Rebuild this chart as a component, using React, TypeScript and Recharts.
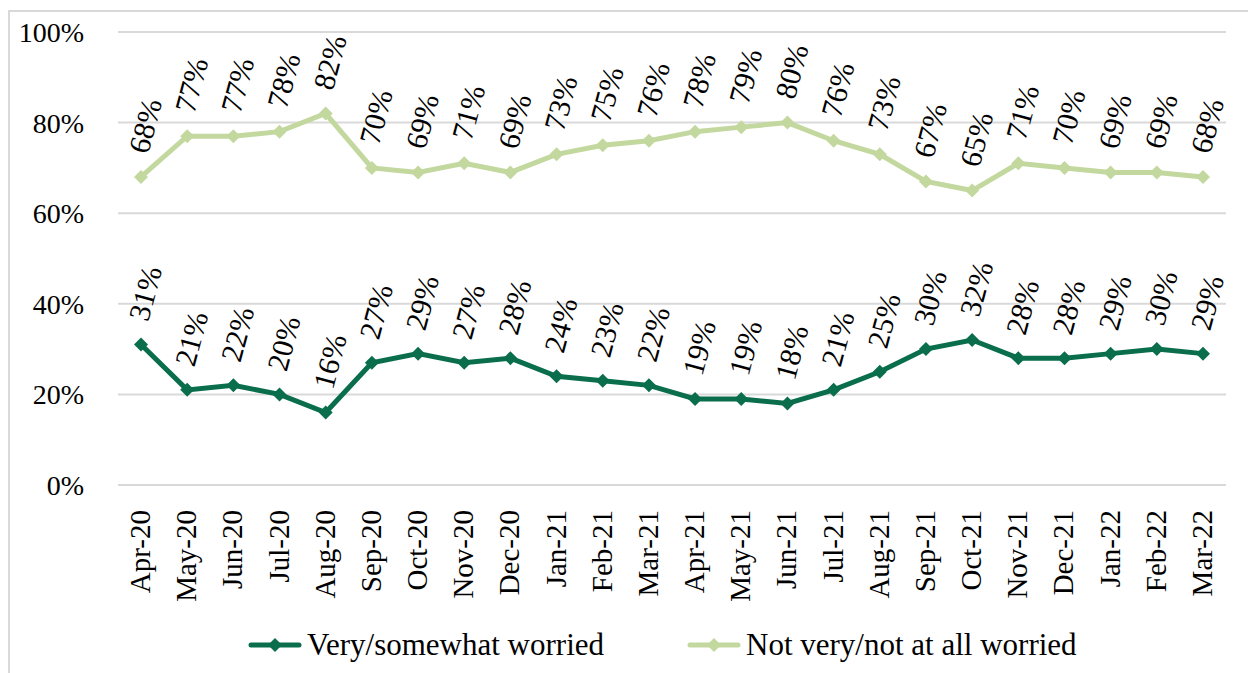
import { LineChart, Line, XAxis, YAxis, CartesianGrid, Legend } from 'recharts';

const months = [
  'Apr-20', 'May-20', 'Jun-20', 'Jul-20', 'Aug-20', 'Sep-20', 'Oct-20', 'Nov-20',
  'Dec-20', 'Jan-21', 'Feb-21', 'Mar-21', 'Apr-21', 'May-21', 'Jun-21', 'Jul-21',
  'Aug-21', 'Sep-21', 'Oct-21', 'Nov-21', 'Dec-21', 'Jan-22', 'Feb-22', 'Mar-22',
];
const worried = [31, 21, 22, 20, 16, 27, 29, 27, 28, 24, 23, 22, 19, 19, 18, 21, 25, 30, 32, 28, 28, 29, 30, 29];
const notWorried = [68, 77, 77, 78, 82, 70, 69, 71, 69, 73, 75, 76, 78, 79, 80, 76, 73, 67, 65, 71, 70, 69, 69, 68];
const yTicks = [0, 20, 40, 60, 80, 100];

const DARK = '#0a6e4d';
const LIGHT = '#c3d89e';
const FONT = '"Liberation Serif", "Times New Roman", serif';

const data = months.map((m, i) => ({ month: m, worried: worried[i], notWorried: notWorried[i] }));

const diamond = (color: string) => (props: any) => {
  const { cx, cy, index } = props;
  if (cx == null || cy == null) return <g key={index} />;
  const r = 7;
  return (
    <path
      key={index}
      d={`M${cx},${cy - r} L${cx + r},${cy} L${cx},${cy + r} L${cx - r},${cy} Z`}
      fill={color}
    />
  );
};

// value labels sit above each point, tilted almost upright
const valueLabel = (props: any) => {
  const { x, y, value, index } = props;
  const ax = x + 7;
  const ay = y - 22;
  return (
    <text
      key={index}
      x={ax}
      y={ay}
      transform={`rotate(-75, ${ax}, ${ay})`}
      fontSize={30}
      fontFamily={FONT}
      fill="#000"
      textAnchor="start"
    >
      {value}%
    </text>
  );
};

const MonthTick = (props: any) => {
  const { x, y, payload } = props;
  const ax = x + 9;
  const ay = y + 23;
  return (
    <text
      x={ax}
      y={ay}
      transform={`rotate(-90, ${ax}, ${ay})`}
      textAnchor="end"
      fontSize={29}
      fontFamily={FONT}
      fill="#000"
    >
      {payload.value}
    </text>
  );
};

const legendItems = [
  { label: 'Very/somewhat worried', color: DARK },
  { label: 'Not very/not at all worried', color: LIGHT },
];

const LegendContent = () => (
  <div style={{ height: 40, display: 'flex', alignItems: 'center', paddingLeft: 238, fontFamily: FONT, fontSize: 31 }}>
    {legendItems.map((it, i) => (
      <div key={it.label} style={{ display: 'flex', alignItems: 'center', marginLeft: i === 0 ? 0 : 83 }}>
        <svg width={54} height={20} style={{ marginRight: 5 }}>
          <line x1={3} y1={10} x2={51} y2={10} stroke={it.color} strokeWidth={5} strokeLinecap="round" />
          <path d="M27,3 L34,10 L27,17 L20,10 Z" fill={it.color} />
        </svg>
        <span style={{ color: '#000', lineHeight: '40px' }}>{it.label}</span>
      </div>
    ))}
  </div>
);

export default function App() {
  return (
    <div
      style={{
        position: 'absolute',
        left: 8,
        top: 10,
        width: 1240,
        height: 663,
        borderTop: '2px solid #d9d9d9',
        borderLeft: '2px solid #d9d9d9',
        boxSizing: 'border-box',
        background: '#fff',
      }}
    >
      <LineChart
        width={1238}
        height={661}
        data={data}
        margin={{ top: 20, right: 22, left: 8, bottom: 8 }}
      >
        <CartesianGrid vertical={false} stroke="#d9d9d9" strokeWidth={2} />
        <XAxis
          dataKey="month"
          axisLine={false}
          tickLine={false}
          tickSize={0}
          height={140}
          interval={0}
          padding={{ left: 23, right: 23 }}
          tick={<MonthTick />}
        />
        <YAxis
          domain={[0, 100]}
          ticks={yTicks}
          width={100}
          axisLine={false}
          tickLine={false}
          tickSize={0}
          tickMargin={34}
          tickFormatter={(v: number) => `${v}%`}
          tick={{ fontSize: 28, fontFamily: FONT, fill: '#000' }}
        />
        <Legend verticalAlign="bottom" content={<LegendContent />} wrapperStyle={{ left: 0, width: 1238 }} />
        <Line
          type="linear"
          dataKey="worried"
          name="Very/somewhat worried"
          stroke={DARK}
          strokeWidth={5}
          dot={diamond(DARK)}
          activeDot={false}
          label={valueLabel}
          isAnimationActive={false}
        />
        <Line
          type="linear"
          dataKey="notWorried"
          name="Not very/not at all worried"
          stroke={LIGHT}
          strokeWidth={5}
          dot={diamond(LIGHT)}
          activeDot={false}
          label={valueLabel}
          isAnimationActive={false}
        />
      </LineChart>
    </div>
  );
}
